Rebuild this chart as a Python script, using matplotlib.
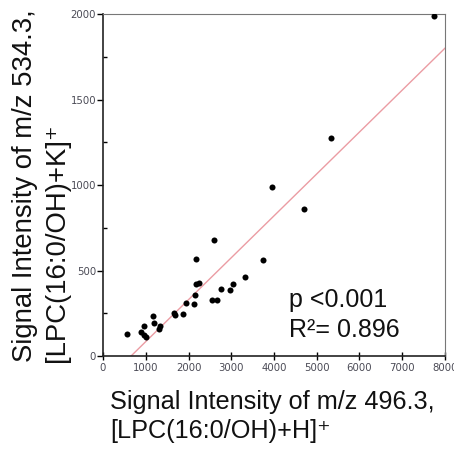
import matplotlib
matplotlib.use("Agg")
import matplotlib.pyplot as plt
from matplotlib.ticker import MultipleLocator

# signal intensity of m/z 496.3 ([LPC(16:0/OH)+H]+) vs m/z 534.3 ([LPC(16:0/OH)+K]+)
x_h = [561, 888, 950, 950, 997, 1176, 1199, 1316, 1340, 1667, 1683, 1862,
       1932, 2127, 2142, 2173, 2181, 2251, 2555, 2672, 2594, 2750, 2968,
       3038, 3326, 3747, 3965, 4713, 5328, 7751]
y_k = [129, 142, 177, 123, 109, 234, 195, 158, 175, 250, 238, 244,
       310, 306, 355, 569, 419, 429, 326, 326, 680, 394, 384,
       421, 464, 563, 986, 858, 1275, 1988]

# regression line end points
fit_x = [654, 8000]
fit_y = [0, 1800]

x_ticks = [0, 1000, 2000, 3000, 4000, 5000, 6000, 7000, 8000]
y_ticks = [0, 500, 1000, 1500, 2000]

plt.rcParams["font.family"] = ["Liberation Sans", "DejaVu Sans"]

fig = plt.figure(figsize=(4.54, 4.53), dpi=100)
ax = fig.add_axes([0.227, 0.214, 0.753, 0.755])

ax.plot(fit_x, fit_y, color="#eb9ca3", lw=1.0, zorder=2)
ax.scatter(x_h, y_k, s=19, color="black", zorder=3, linewidths=0)

ax.set_xlim(0, 8000)
ax.set_ylim(0, 2000)
ax.set_xticks(x_ticks)
ax.set_yticks(y_ticks)
ax.yaxis.set_minor_locator(MultipleLocator(250))

tick_font = dict(family="DejaVu Sans", size=7.3)
ax.set_xticklabels([str(t) for t in x_ticks], fontdict=tick_font, color="#4a4a55")
ax.set_yticklabels([str(t) for t in y_ticks], fontdict=tick_font, color="#4a4a55")
ax.tick_params(axis="x", which="major", direction="inout", length=6, width=1, pad=2)
ax.tick_params(axis="y", which="major", direction="out", length=4, width=1, pad=1)
ax.tick_params(axis="y", which="minor", direction="in", length=3, width=1)

for side in ["left", "bottom"]:
    ax.spines[side].set_linewidth(1.2)
    ax.spines[side].set_color("#222222")
for side in ["top", "right"]:
    ax.spines[side].set_linewidth(0.8)
    ax.spines[side].set_color("#777777")

ax.text(0.545, 0.165, "p <0.001", transform=ax.transAxes, fontsize=18,
        ha="left", va="center", color="#111111")
ax.text(0.545, 0.075, "R²= 0.896", transform=ax.transAxes, fontsize=18,
        ha="left", va="center", color="#111111")

fig.text(0.243, 1 - 402 / 453, "Signal Intensity of m/z 496.3,", fontsize=18.2,
         ha="left", va="center", color="#111111")
fig.text(0.243, 1 - 431 / 453, "[LPC(16:0/OH)+H]⁺", fontsize=18.2,
         ha="left", va="center", color="#111111")

fig.text(25 / 454, 1 - 362 / 453, "Signal Intensity of m/z 534.3,", fontsize=19.8,
         rotation=90, rotation_mode="anchor", ha="left", va="center", color="#111111")
fig.text(57 / 454, 1 - 362 / 453, "[LPC(16:0/OH)+K]⁺", fontsize=19.8,
         rotation=90, rotation_mode="anchor", ha="left", va="center", color="#111111")

fig.savefig("out.png", dpi=100, facecolor="white")
